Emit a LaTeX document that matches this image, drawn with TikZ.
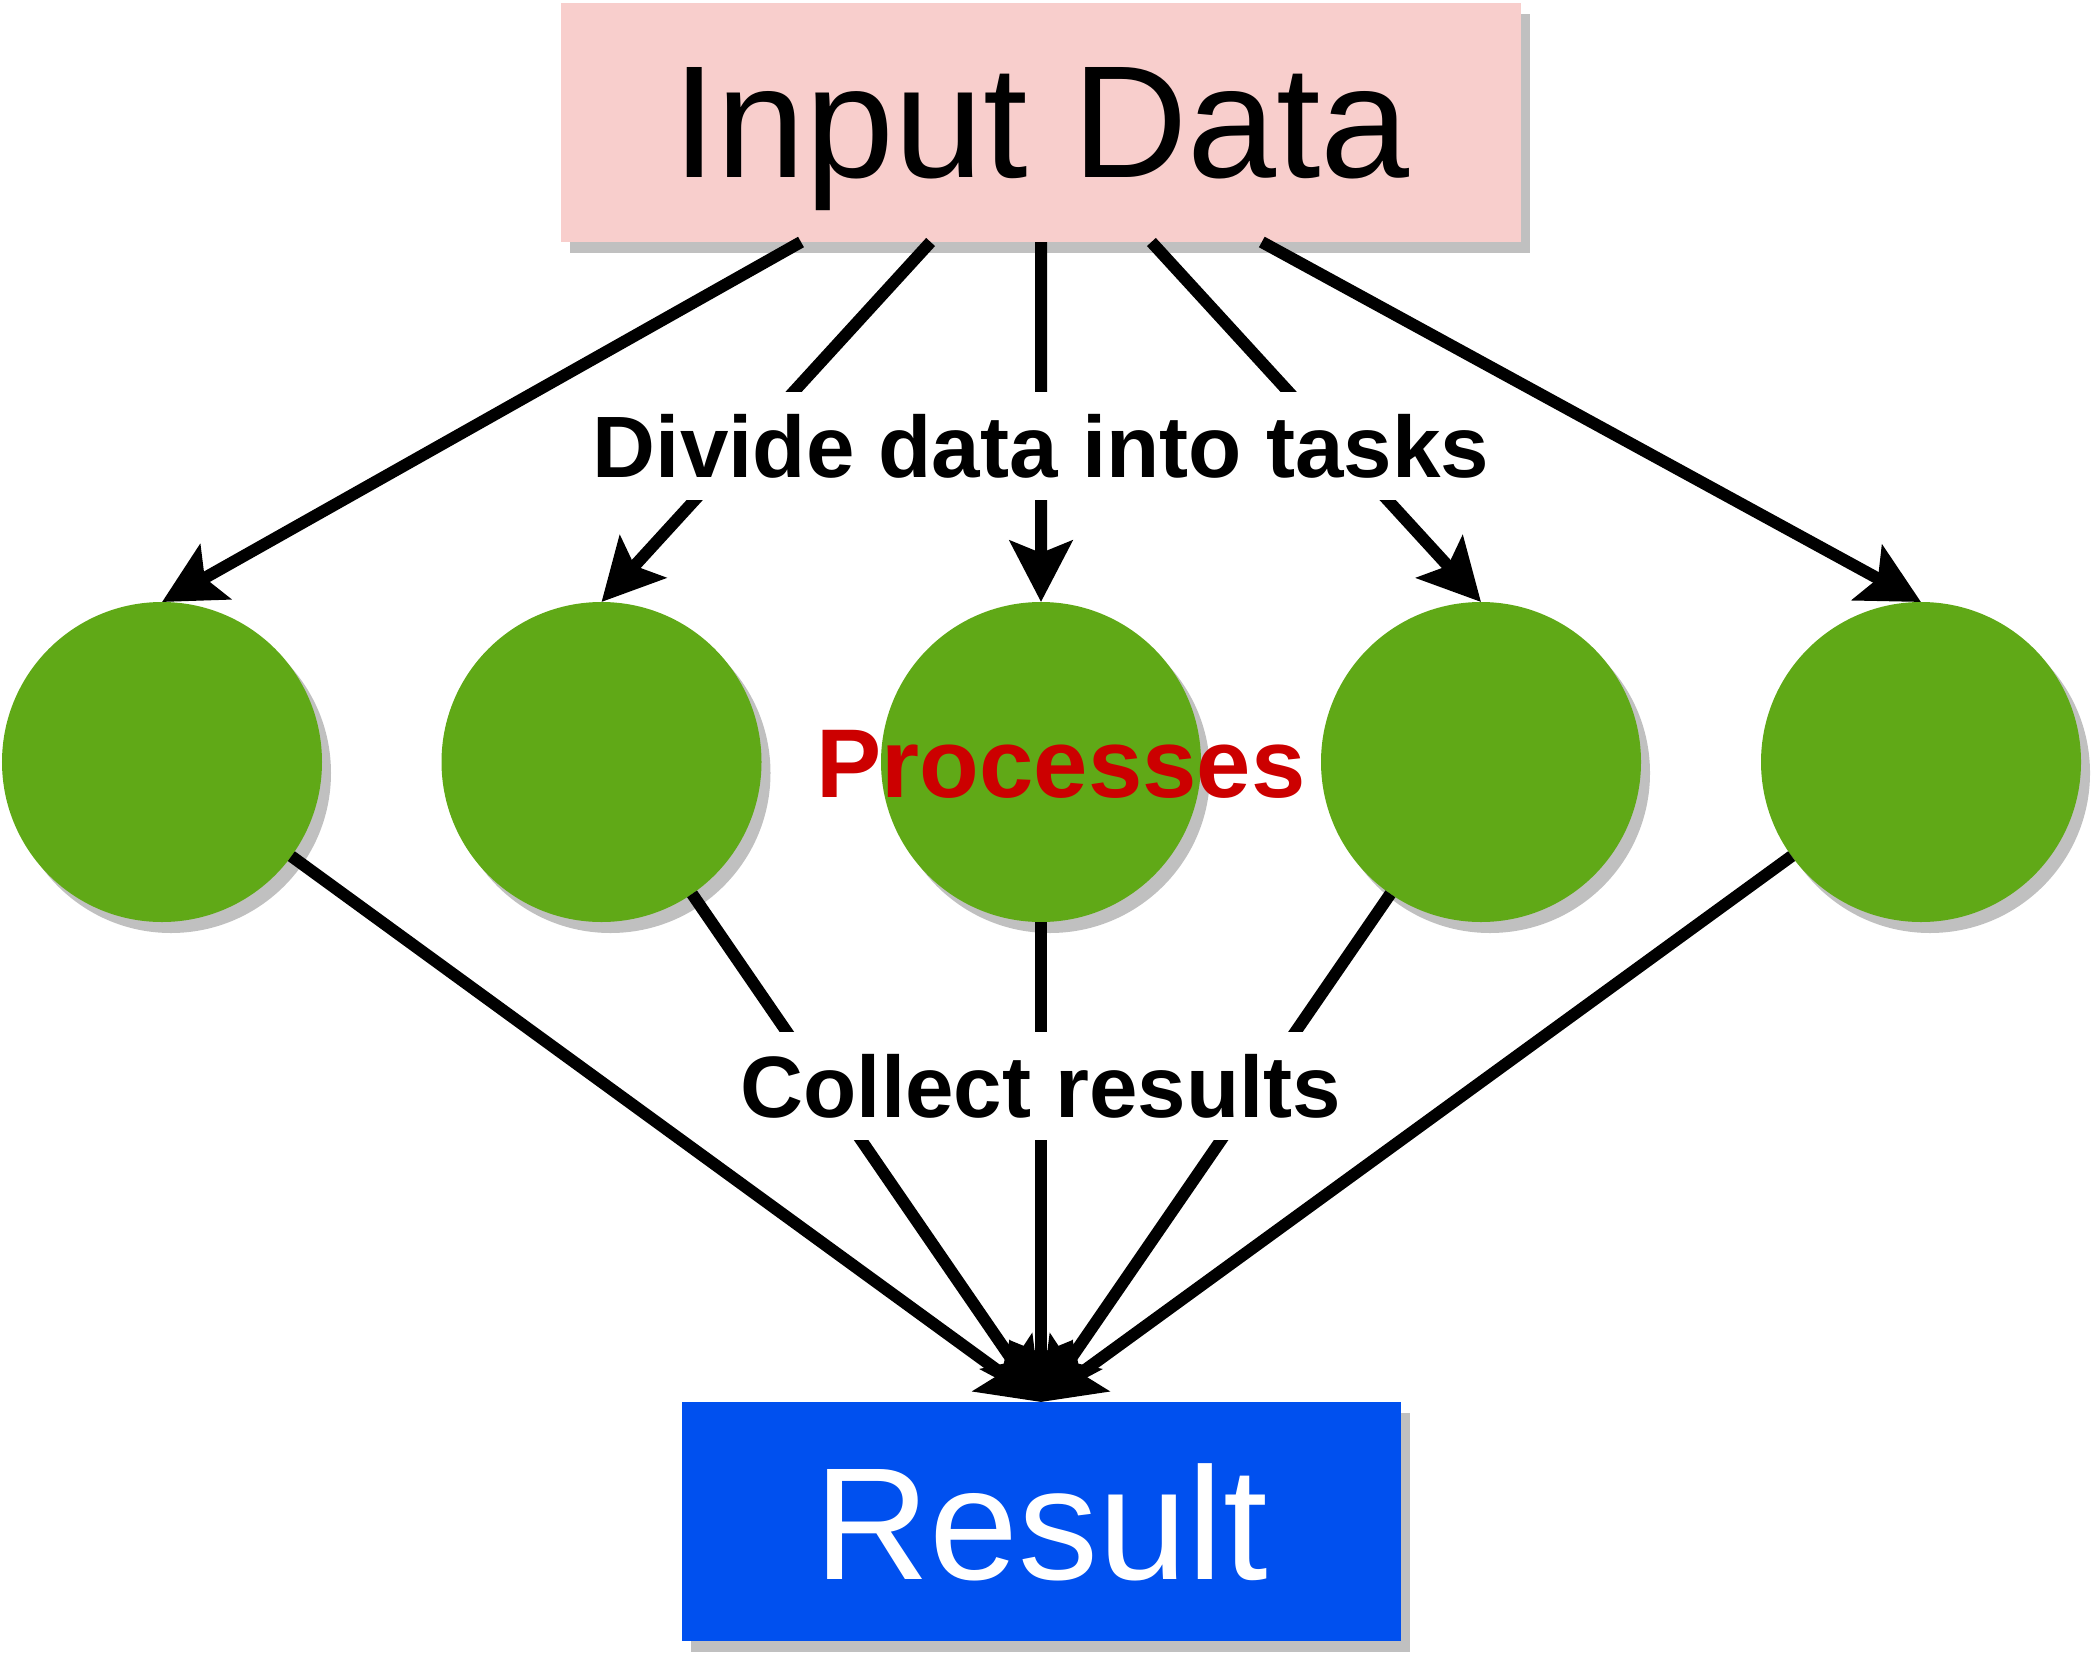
\documentclass[tikz,border=0pt]{standalone}
\usepackage{fontspec}
\setmainfont{Liberation Sans}
\usetikzlibrary{arrows.meta,shadows,calc}
\definecolor{inputpink}{HTML}{F8CECC}
\definecolor{procgreen}{HTML}{60A917}
\definecolor{resultblue}{HTML}{0050EF}
\definecolor{labelred}{HTML}{CC0000}
\definecolor{shadowgray}{HTML}{C0C0C0}
\begin{document}
\begin{tikzpicture}[>={Stealth[length=0.61cm,width=0.62cm,inset=0.12cm]},
    flow/.style={line width=0.12cm},
    boxshadow/.style={drop shadow={shadow xshift=0.09cm,shadow yshift=-0.11cm,fill=shadowgray,opacity=1}},
    proc/.style={circle,fill=procgreen,minimum size=3.2cm,inner sep=0pt,outer sep=0pt,boxshadow},
    bigbox/.style={rectangle,minimum height=2.39cm,inner sep=0pt,outer sep=0pt,text depth=0pt,
        font=\fontsize{45.5}{52}\selectfont,boxshadow},
    lbl/.style={fill=white,inner xsep=0.1cm,inner ysep=0pt,minimum height=1.08cm,
        font=\fontsize{24.8}{30}\selectfont\bfseries}]
    \useasboundingbox (0,0) rectangle (20.96,-16.6);
    % boxes
    \node [bigbox,fill=inputpink,minimum width=9.6cm] (input) at (10.41,-1.225) {Input Data};
    \node [bigbox,fill=resultblue,text=white,minimum width=7.19cm] (result) at (10.41,-15.215) {Result};
    % processes
    \node [proc] (p1) at (1.62,-7.62) {};
    \node [proc] (p2) at (6.015,-7.62) {};
    \node [proc] (p3) at (10.41,-7.62) {};
    \node [proc] (p4) at (14.81,-7.62) {};
    \node [proc] (p5) at (19.21,-7.62) {};
    \node [text=labelred,font=\fontsize{27.8}{32}\selectfont\bfseries,inner sep=0pt] (procs) at (10.61,-7.64) {Processes};
    % split and collect
    \foreach \f [count=\i] in {0.25,0.385,0.5,0.615,0.73}
        \coordinate (o\i) at ($(input.south west)!\f!(input.south east)$);
    \foreach \i in {1,...,5} {
        \draw [flow,->] (o\i) -- (p\i.north);
        \draw [flow,->] (p\i) -- (result.north);
    }
    \node [lbl] (divide) at (10.41,-4.46) {Divide data into tasks};
    \node [lbl] (collect) at (10.41,-10.86) {Collect results};
\end{tikzpicture}
\end{document}
